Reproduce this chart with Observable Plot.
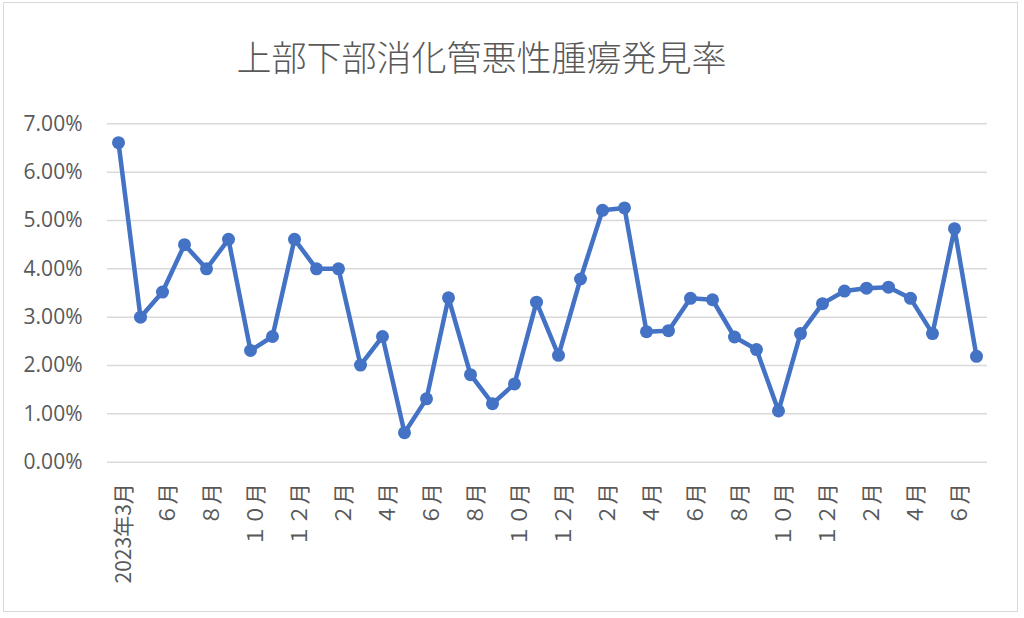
<!DOCTYPE html>
<html>
<head>
<meta charset="utf-8">
<script src="https://cdn.jsdelivr.net/npm/d3@7"></script>
<script src="https://cdn.jsdelivr.net/npm/@observablehq/plot@0.6"></script>
<style>
  html, body { margin: 0; padding: 0; background: #fff; }
  #chart { position: relative; width: 1024px; height: 618px; overflow: hidden; background: #fff; }
  #frame { position: absolute; left: 3px; top: 2px; width: 1013px; height: 608px; border: 1.5px solid #d9d9d9; pointer-events: none; }
  #title { position: relative; height: 95px; }
  #title span { position: absolute; left: 0; width: 963px; top: 38px; text-align: center; font-family: "Noto Sans CJK JP", sans-serif; font-weight: 300; font-size: 35px; line-height: 35px; color: #595959; white-space: nowrap; }
  #plot svg { display: block; }
</style>
</head>
<body>
<div id="chart">
  <div id="title"><span>上部下部消化管悪性腫瘍発見率</span></div>
  <div id="plot"></div>
  <div id="frame"></div>
</div>
<script>
// Category labels (one per month point)
const labels = ["2023年3月","5月","６月","7月","８月","9月","１０月","11月","１２月","1月",
  "２月","3月","４月","5月","６月","7月","８月","9月","１０月","11月",
  "１２月","1月","２月","3月","４月","5月","６月","7月","８月","9月",
  "１０月","11月","１２月","1月","２月","3月","４月","5月","６月","7月"];
// Detection rate (%)
const rates = [6.61,3.00,3.52,4.50,4.00,4.61,2.31,2.60,4.61,4.00,
  4.00,2.01,2.60,0.61,1.31,3.40,1.81,1.21,1.62,3.31,
  2.21,3.79,5.21,5.26,2.70,2.72,3.39,3.36,2.59,2.33,
  1.06,2.66,3.28,3.54,3.60,3.62,3.39,2.66,4.83,2.19];
// Y-axis ticks (%)
const yTicks = [0,1,2,3,4,5,6,7];
// Indices that carry a visible category label
const labelIdx = [0,2,4,6,8,10,12,14,16,18,20,22,24,26,28,30,32,34,36,38];

const data = rates.map((v, i) => ({i, v}));

const chart = Plot.plot({
  width: 1024,
  height: 523,
  marginLeft: 107,
  marginRight: 37,
  marginTop: 28.3,
  marginBottom: 156.3,
  style: { fontFamily: "'Open Sans', 'Noto Sans CJK JP', sans-serif", fontSize: "21px", color: "#595959", background: "transparent" },
  x: { type: "point", domain: d3.range(labels.length), padding: 0.5, axis: null },
  y: { domain: [0, 7], axis: null },
  marks: [
    Plot.gridY(yTicks, { stroke: "#d9d9d9", strokeOpacity: 1, strokeWidth: 1.5 }),
    Plot.axisY(yTicks, { label: null, tickSize: 0, tickPadding: 25, tickFormat: d => d.toFixed(2) + "%", fill: "#595959", fontSize: 21 }),
    Plot.axisX(labelIdx, { label: null, tickSize: 0, tickRotate: -90, tickPadding: 21, dx: 6, tickFormat: i => labels[i], fill: "#595959", fontSize: 21, fontFamily: "'Noto Sans CJK JP', sans-serif" }),
    Plot.line(data, { x: "i", y: "v", stroke: "#4472C4", strokeWidth: 4.5, strokeLinejoin: "round" }),
    Plot.dot(data, { x: "i", y: "v", r: 6.5, fill: "#4472C4", stroke: "none" })
  ]
});
document.getElementById("plot").appendChild(chart);
</script>
</body>
</html>
